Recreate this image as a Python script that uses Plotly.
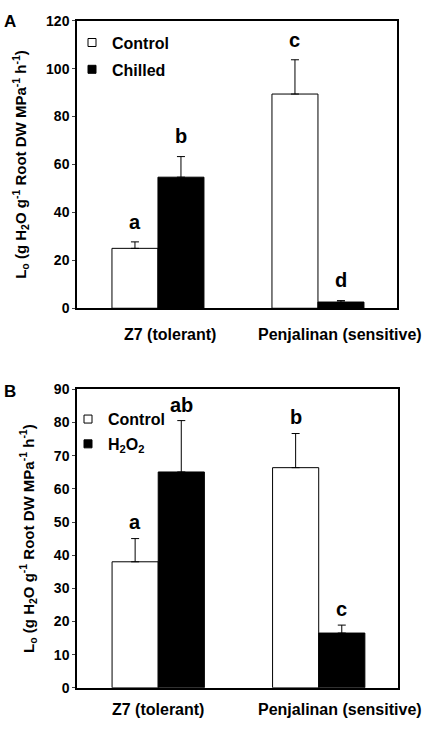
import plotly.graph_objects as go

# ---------------- data ----------------
categories = ["Z7 (tolerant)", "Penjalinan (sensitive)"]

a_control = [25.0, 89.4]
a_control_err = [2.7, 14.3]
a_chilled = [54.7, 2.6]
a_chilled_err = [8.6, 0.6]
a_letters_control = ["a", "c"]
a_letters_treat = ["b", "d"]

b_control = [38.0, 66.4]
b_control_err = [7.0, 10.3]
b_h2o2 = [65.1, 16.5]
b_h2o2_err = [15.5, 2.4]
b_letters_control = ["a", "b"]
b_letters_treat = ["ab", "c"]

a_yticks = [0, 20, 40, 60, 80, 100, 120]
b_yticks = [0, 10, 20, 30, 40, 50, 60, 70, 80, 90]

# ---------------- style ----------------
FONT = "Liberation Sans, Arial, sans-serif"
W, H = 428, 729


def px_x(p):
    return p / W


def px_y(p):
    return 1 - p / H


ytitle = ("L<sub>o</sub> (g H<sub>2</sub>O g<sup>-1</sup> Root DW "
          "MPa<sup>-1</sup> h<sup>-1</sup>)")

fig = go.Figure()


def err(vals):
    return dict(type="data", array=vals, arrayminus=[0] * len(vals),
                symmetric=False, color="black", thickness=1, width=4)


# panel A bars
fig.add_trace(go.Bar(x=categories, y=a_control, error_y=err(a_control_err),
                     marker=dict(color="white", line=dict(color="black", width=1)),
                     showlegend=False, xaxis="x", yaxis="y"))
fig.add_trace(go.Bar(x=categories, y=a_chilled, error_y=err(a_chilled_err),
                     marker=dict(color="black", line=dict(color="black", width=1)),
                     showlegend=False, xaxis="x", yaxis="y"))
# panel B bars
fig.add_trace(go.Bar(x=categories, y=b_control, error_y=err(b_control_err),
                     marker=dict(color="white", line=dict(color="black", width=1)),
                     showlegend=False, xaxis="x2", yaxis="y2"))
fig.add_trace(go.Bar(x=categories, y=b_h2o2, error_y=err(b_h2o2_err),
                     marker=dict(color="black", line=dict(color="black", width=1)),
                     showlegend=False, xaxis="x2", yaxis="y2"))


# legend entries
def leg(name, fill, legend, ax, ay, grp):
    return go.Scatter(x=[None], y=[None], mode="markers", name=name,
                      marker=dict(symbol="square", size=8, color=fill,
                                  line=dict(color="black", width=1)),
                      legend=legend, legendgroup=grp, xaxis=ax, yaxis=ay)


fig.add_trace(leg("Control", "white", "legend", "x", "y", "a1"))
fig.add_trace(leg("Chilled", "black", "legend", "x", "y", "a2"))
fig.add_trace(leg("Control", "white", "legend2", "x2", "y2", "b1"))
fig.add_trace(leg("H<sub>2</sub>O<sub>2</sub>", "black", "legend2", "x2", "y2", "b2"))

xrange = [-0.506, 1.494]
axis_common = dict(showline=True, linecolor="black", linewidth=1.5, mirror=True,
                   showgrid=False, zeroline=False)

fig.update_layout(
    width=W, height=H,
    margin=dict(l=0, r=0, t=0, b=0),
    paper_bgcolor="white", plot_bgcolor="white",
    font=dict(family=FONT, color="black", size=14, weight="bold"),
    barmode="group", bargap=0.425, bargroupgap=0,
    xaxis=dict(domain=[px_x(77), px_x(397)], range=xrange, anchor="y",
               showticklabels=False, ticks="", **axis_common),
    yaxis=dict(domain=[px_y(307), px_y(13)], range=[0, 120], anchor="x",
               tickvals=a_yticks, ticks="outside", ticklen=3, tickwidth=1,
               tickfont=dict(family=FONT, size=14, weight="bold"),
               title=dict(text=ytitle, font=dict(family=FONT, size=15, weight="bold"),
                          standoff=16),
               **axis_common),
    xaxis2=dict(domain=[px_x(77), px_x(398)], range=xrange, anchor="y2",
                showticklabels=False, ticks="", **axis_common),
    yaxis2=dict(domain=[px_y(695), px_y(390)], range=[0, 90], anchor="x2",
                tickvals=b_yticks, ticks="outside", ticklen=3, tickwidth=1,
                tickfont=dict(family=FONT, size=14, weight="bold"),
                title=dict(text=ytitle, font=dict(family=FONT, size=15, weight="bold"),
                           standoff=16),
                **axis_common),
    legend=dict(x=px_x(72), y=px_y(18), xanchor="left", yanchor="top",
                font=dict(family=FONT, size=16, weight="bold"), bgcolor="rgba(0,0,0,0)",
                traceorder="grouped", tracegroupgap=3, itemwidth=30),
    legend2=dict(x=px_x(68), y=px_y(403), xanchor="left", yanchor="top",
                 font=dict(family=FONT, size=16, weight="bold"), bgcolor="rgba(0,0,0,0)",
                 traceorder="grouped", tracegroupgap=1, itemwidth=30),
)

ann = []
# panel labels
ann.append(dict(text="A", x=px_x(10), y=px_y(14), xref="paper", yref="paper",
                xanchor="center", yanchor="middle", showarrow=False,
                font=dict(family=FONT, size=17, weight="bold")))
ann.append(dict(text="B", x=px_x(10), y=px_y(392), xref="paper", yref="paper",
                xanchor="center", yanchor="middle", showarrow=False,
                font=dict(family=FONT, size=17, weight="bold")))

# category labels
for cat, shA, shB in zip(categories, [12, 22], [0, 21]):
    ann.append(dict(text=cat, x=cat, y=px_y(334), xref="x", yref="paper",
                    xanchor="center", yanchor="middle",
                    xshift=shA, showarrow=False,
                    font=dict(family=FONT, size=16, weight="bold")))
    ann.append(dict(text=cat, x=cat, y=px_y(717), xref="x2", yref="paper",
                    xanchor="center", yanchor="middle",
                    xshift=shB, showarrow=False,
                    font=dict(family=FONT, size=16, weight="bold")))


# significance letters
def letters(vals, errs, labs, xr, yr, shift, yshift):
    out = []
    for cat, v, e, t in zip(categories, vals, errs, labs):
        out.append(dict(text=t, x=cat, y=v + e, xref=xr, yref=yr, xshift=shift,
                        xanchor="center", yshift=yshift, yanchor="bottom",
                        showarrow=False,
                        font=dict(family=FONT, size=20, weight="bold")))
    return out


ann += letters(a_control, a_control_err, a_letters_control, "x", "y", -23, 7)
ann += letters(a_chilled, a_chilled_err, a_letters_treat, "x", "y", 23, 8)
ann += letters(b_control, b_control_err, b_letters_control, "x2", "y2", -23, 4)
ann += letters(b_h2o2, b_h2o2_err, b_letters_treat, "x2", "y2", 23, 3)

fig.update_layout(annotations=ann)
# remove the browser's default 8px page margin so the figure fills the window
fig.write_html("out.html",
               config={"displayModeBar": False},
               post_script="document.body.style.margin='0';"
                           "document.documentElement.style.overflow='hidden';")
